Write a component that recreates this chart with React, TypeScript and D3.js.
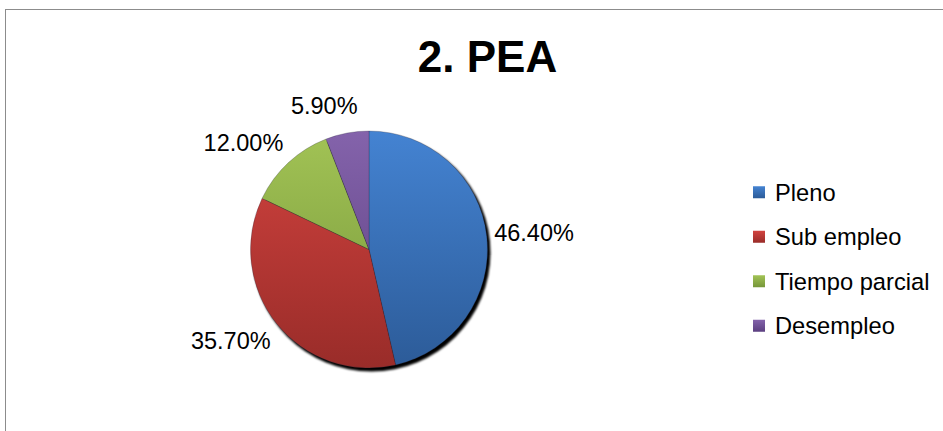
import React, { useRef, useEffect } from "react";
import * as d3 from "d3";

const categories = ["Pleno", "Sub empleo", "Tiempo parcial", "Desempleo"];
const values = [46.4, 35.7, 12.0, 5.9];
const valueLabels = ["46.40%", "35.70%", "12.00%", "5.90%"];
const title = "2. PEA";

const colorsTop = ["#4483d2", "#d2433f", "#a2c355", "#8463ab"];
const colorsBottom = ["#2c5b98", "#992c29", "#76963a", "#5b3f80"];

const App: React.FC = () => {
  const ref = useRef<SVGSVGElement>(null);

  useEffect(() => {
    if (!ref.current) return;
    const W = 943;
    const H = 431;
    const svg = d3.select(ref.current);
    svg.selectAll("*").remove();

    const font = "'Liberation Sans', Arial, sans-serif";
    const cx = 369;
    const cy = 249.5;
    const r = 118.5;

    const defs = svg.append("defs");
    // slice gradients, in the translated user space of each path
    categories.forEach((c, i) => {
      const g = defs
        .append("linearGradient")
        .attr("id", `grad${i}`)
        .attr("gradientUnits", "userSpaceOnUse")
        .attr("x1", 0)
        .attr("y1", -r)
        .attr("x2", 0)
        .attr("y2", r);
      g.append("stop").attr("offset", "0%").attr("stop-color", colorsTop[i]);
      g.append("stop").attr("offset", "100%").attr("stop-color", colorsBottom[i]);
    });
    const shadow = defs
      .append("filter")
      .attr("id", "shadow")
      .attr("x", "-10%")
      .attr("y", "-10%")
      .attr("width", "120%")
      .attr("height", "120%");
    shadow.append("feGaussianBlur").attr("stdDeviation", 1.1);

    // chart frame
    svg
      .append("rect")
      .attr("x", 5.5)
      .attr("y", 9.5)
      .attr("width", W + 10)
      .attr("height", H + 10)
      .attr("fill", "white")
      .attr("stroke", "#8c8c8c")
      .attr("stroke-width", 1);

    svg
      .append("text")
      .attr("x", 487.5)
      .attr("y", 72)
      .attr("text-anchor", "middle")
      .attr("font-family", font)
      .attr("font-weight", "bold")
      .attr("font-size", 44)
      .attr("fill", "#000")
      .text(title);

    const pie = d3
      .pie<number>()
      .sort(null)
      .value((d) => d);
    const arcs = pie(values);
    const arc = d3.arc<d3.PieArcDatum<number>>().innerRadius(0).outerRadius(r);

    const g = svg.append("g").attr("transform", `translate(${cx},${cy})`);

    g.append("circle")
      .attr("cx", 2.5)
      .attr("cy", 3)
      .attr("r", r + 0.5)
      .attr("fill", "#000")
      .attr("filter", "url(#shadow)");

    g.selectAll("path")
      .data(arcs)
      .enter()
      .append("path")
      .attr("d", arc)
      .attr("fill", (d, i) => `url(#grad${i})`)
      .attr("stroke", "rgba(40,40,60,0.45)")
      .attr("stroke-width", 0.6);

    // data labels outside end
    const R = 126;
    arcs.forEach((d, i) => {
      const mid = (d.startAngle + d.endAngle) / 2;
      const dx = Math.sin(mid);
      const dy = -Math.cos(mid);
      const t = svg
        .append("text")
        .attr("font-family", font)
        .attr("font-size", 23.5)
        .attr("fill", "#000")
        .attr("text-anchor", "middle")
        .attr("dominant-baseline", "central")
        .text(valueLabels[i]);
      const node = t.node() as SVGTextElement;
      const w = node.getComputedTextLength();
      const hw = w / 2;
      const hh = 9;
      const kx = Math.max(-1, Math.min(1, dx * 3.5));
      const px = cx + R * dx + kx * hw;
      const py = cy + R * dy + dy * hh * 2.2;
      t.attr("x", px).attr("y", py);
    });

    // legend
    const ly = d3
      .scaleBand()
      .domain(categories)
      .range([170, 348])
      .paddingInner(0)
      .paddingOuter(0);
    const leg = svg.append("g");
    categories.forEach((c, i) => {
      const y = (ly(c) || 0) + ly.bandwidth() / 2;
      const lg = defs
        .append("linearGradient")
        .attr("id", `lg${i}`)
        .attr("x1", 0)
        .attr("y1", 0)
        .attr("x2", 0)
        .attr("y2", 1);
      lg.append("stop").attr("offset", "0%").attr("stop-color", colorsTop[i]);
      lg.append("stop").attr("offset", "100%").attr("stop-color", colorsBottom[i]);
      leg
        .append("rect")
        .attr("x", 753)
        .attr("y", y - 6)
        .attr("width", 12)
        .attr("height", 12)
        .attr("fill", `url(#lg${i})`);
      leg
        .append("text")
        .attr("x", 775)
        .attr("y", y + 8.5)
        .attr("font-family", font)
        .attr("font-size", 23.7)
        .attr("fill", "#000")
        .text(c);
    });
  }, []);

  return (
    <svg
      ref={ref}
      width={943}
      height={431}
      style={{ position: "fixed", left: 0, top: 0, background: "white" }}
    ></svg>
  );
};

export default App;
